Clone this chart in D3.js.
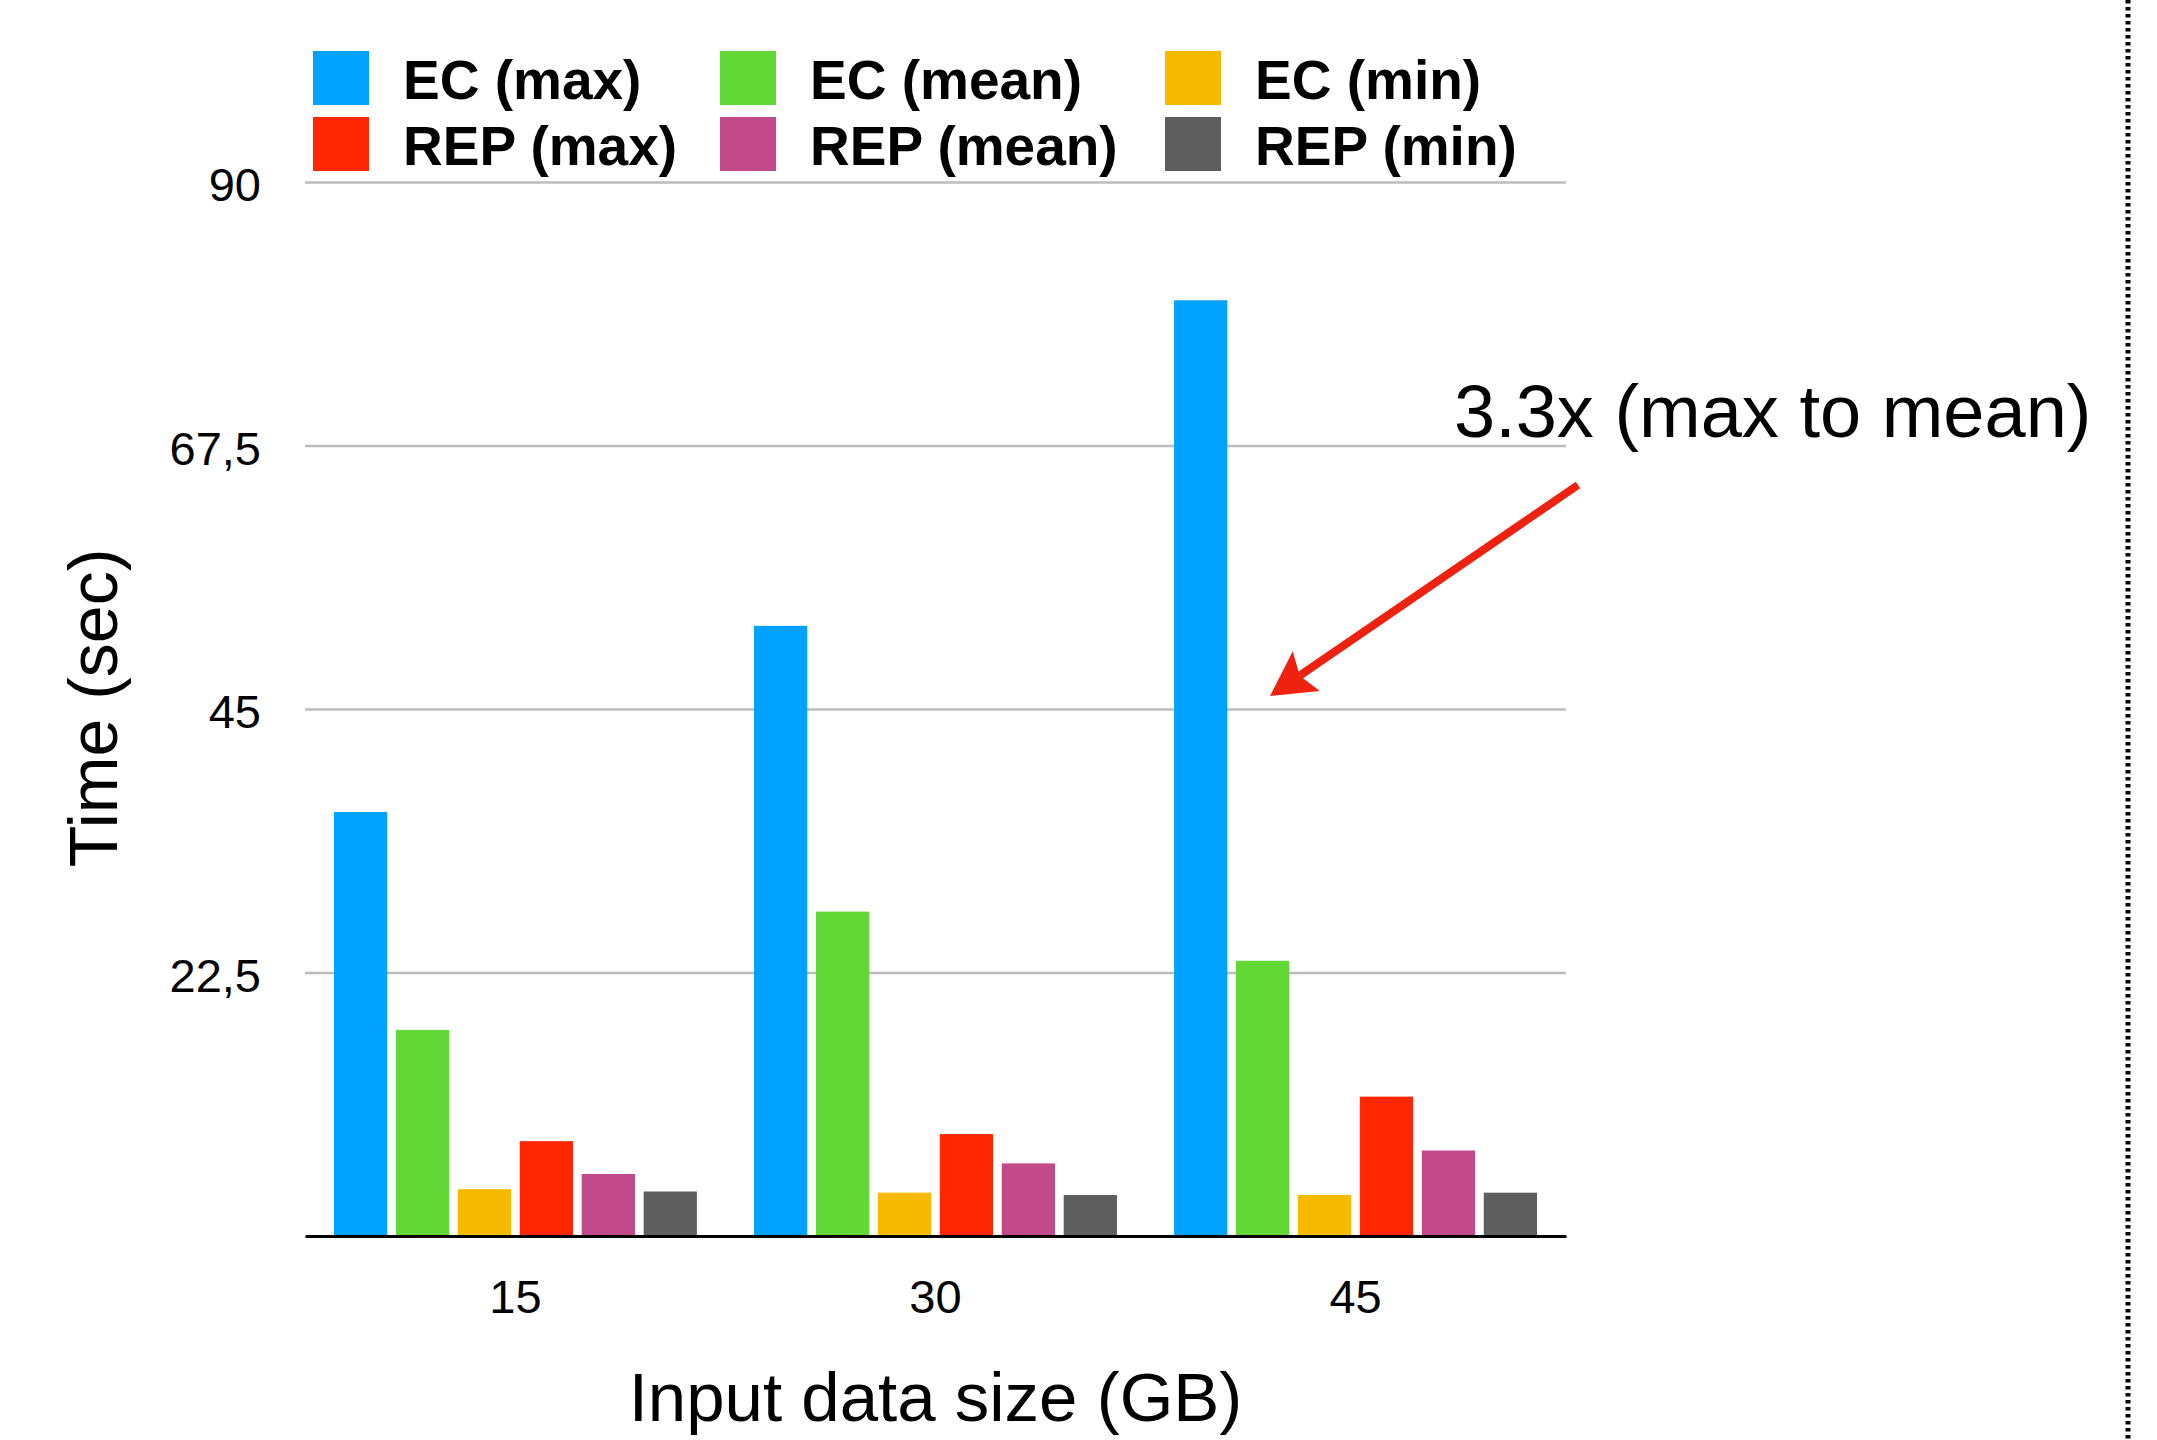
<!DOCTYPE html>
<html>
<head>
<meta charset="utf-8">
<script src="https://cdn.jsdelivr.net/npm/d3@7"></script>
<style>
  html, body { margin: 0; padding: 0; background: #fff; }
  text { font-family: "Liberation Sans", Arial, Helvetica, sans-serif; }
</style>
</head>
<body>
<svg width="2157" height="1440"></svg>
<script>
// data
let sizes = ["15", "30", "45"];
let series = ["EC (max)", "EC (mean)", "EC (min)", "REP (max)", "REP (mean)", "REP (min)"];
let ecMax   = [36.2, 52.1, 79.9];
let ecMean  = [17.6, 27.7, 23.5];
let ecMin   = [4.0, 3.7, 3.5];
let repMax  = [8.1, 8.7, 11.9];
let repMean = [5.3, 6.2, 7.3];
let repMin  = [3.8, 3.5, 3.7];
let yTicks = [22.5, 45, 67.5, 90];

let colors = ["#00a2ff", "#61d836", "#f8ba00", "#ff2600", "#c2498a", "#5e5e5e"];
let values = [ecMax, ecMean, ecMin, repMax, repMean, repMin];

// rows for the grouped bars
let rows = [];
sizes.forEach(function(s, i){
  series.forEach(function(name, j){
    rows.push({size: s, series: name, value: values[j][i]})
  })
})

const plotLeft = 305, plotRight = 1566, plotTop = 182, plotBottom = 1236;

let svg = d3.select('svg');

let x0 = d3.scaleBand()
  .domain(sizes)
  .range([plotLeft, plotRight])
  .paddingInner(0.136)
  .paddingOuter(0.069);

let x1 = d3.scaleBand()
  .domain(series)
  .range([0, x0.bandwidth()])
  .paddingInner(0.14);

let y = d3.scaleLinear()
  .domain([0, 90])
  .range([plotBottom, plotTop]);

let color = d3.scaleOrdinal().domain(series).range(colors);

// y axis with gridlines
let yAxis = svg.append('g')
  .attr('transform', `translate(${plotLeft},0)`)
  .call(d3.axisLeft(y)
    .tickValues(yTicks)
    .tickSize(-(plotRight - plotLeft))
    .tickPadding(44)
    .tickFormat(d => String(d).replace('.', ',')));

yAxis.select('.domain').remove();
yAxis.selectAll('.tick line')
  .attr('stroke', '#bdbdbd')
  .attr('stroke-width', 2.5);
yAxis.selectAll('.tick text')
  .attr('font-size', 47)
  .attr('fill', '#000')
  .attr('dy', '0.4em');

// bars
svg.append('g')
  .selectAll('rect')
  .data(rows)
  .join('rect')
  .attr('x', d => x0(d.size) + x1(d.series))
  .attr('y', d => y(d.value))
  .attr('width', x1.bandwidth())
  .attr('height', d => y(0) - y(d.value))
  .attr('fill', d => color(d.series));

// baseline + x labels
let xAxis = svg.append('g')
  .attr('transform', `translate(0,${plotBottom})`)
  .call(d3.axisBottom(x0).tickSize(0));

xAxis.select('.domain')
  .attr('stroke', '#000')
  .attr('stroke-width', 3);
xAxis.selectAll('.tick text')
  .attr('font-size', 47)
  .attr('fill', '#000')
  .attr('y', 77)
  .attr('dy', 0);

// axis titles
svg.append('text')
  .attr('x', (plotLeft + plotRight) / 2)
  .attr('y', 1421)
  .attr('text-anchor', 'middle')
  .attr('font-size', 69)
  .text('Input data size (GB)');

svg.append('text')
  .attr('transform', 'translate(117,708) rotate(-90)')
  .attr('text-anchor', 'middle')
  .attr('font-size', 68)
  .text('Time (sec)');

// legend, 3 columns x 2 rows
let legendX = [313, 720, 1165];
let legendY = [51, 117];
let legend = svg.append('g')
  .selectAll('g')
  .data(series)
  .join('g')
  .attr('transform', (d, i) => `translate(${legendX[i % 3]},${legendY[Math.floor(i / 3)]})`);

legend.append('rect')
  .attr('width', 56)
  .attr('height', 54)
  .attr('fill', d => color(d));

legend.append('text')
  .attr('x', 90)
  .attr('y', 48)
  .attr('font-size', 55)
  .attr('font-weight', 'bold')
  .text(d => d);

// annotation
svg.append('text')
  .attr('x', 1454)
  .attr('y', 437)
  .attr('font-size', 74)
  .text('3.3x (max to mean)');

let start = [1578, 485], tip = [1270, 696];
let dx = tip[0] - start[0], dy = tip[1] - start[1];
let len = Math.sqrt(dx * dx + dy * dy);
let u = [dx / len, dy / len], n = [-u[1], u[0]];
let headLen = 44, headHalf = 24;
let base = [tip[0] - headLen * u[0], tip[1] - headLen * u[1]];
let notch = [tip[0] - (headLen - 8) * u[0], tip[1] - (headLen - 8) * u[1]];

svg.append('line')
  .attr('x1', start[0]).attr('y1', start[1])
  .attr('x2', notch[0]).attr('y2', notch[1])
  .attr('stroke', '#ee2211')
  .attr('stroke-width', 8);

svg.append('path')
  .attr('d', d3.line()([
    tip,
    [base[0] + headHalf * n[0], base[1] + headHalf * n[1]],
    notch,
    [base[0] - headHalf * n[0], base[1] - headHalf * n[1]]
  ]) + 'Z')
  .attr('fill', '#ee2211');

// dotted separator on the right
svg.append('line')
  .attr('x1', 2128).attr('x2', 2128)
  .attr('y1', 0).attr('y2', 1440)
  .attr('stroke', '#000')
  .attr('stroke-width', 5)
  .attr('stroke-dasharray', '3.5,3.5');
</script>
</body>
</html>
